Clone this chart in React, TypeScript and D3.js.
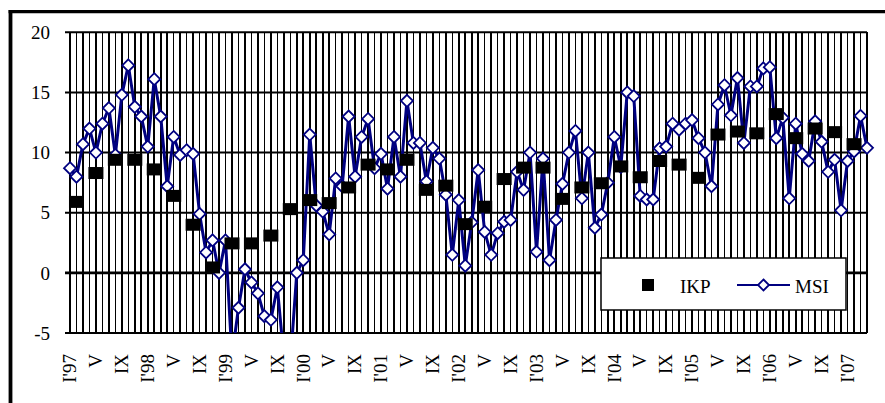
import * as d3 from 'd3';

// monthly MSI, I'97 .. IV'07
const msi = [
  8.7, 8.0, 10.7, 12.0, 10.0, 12.4, 13.7, 9.8, 14.8, 17.25, 13.8, 13.0,
  10.5, 16.1, 13.0, 7.2, 11.3, 9.8, 10.2, 9.9, 4.9, 1.7, 2.7, 0.0,
  2.7, -7.0, -2.9, 0.3, -0.8, -1.7, -3.6, -3.9, -1.2, -7.0, -7.5, 0.0,
  1.05, 11.5, 5.6, 5.1, 3.2, 7.85, 7.2, 13.0, 8.0, 11.3, 12.8, 8.7,
  9.9, 7.0, 11.3, 8.0, 14.3, 10.8, 10.8, 7.6, 10.4, 9.5, 6.5, 1.5,
  6.05, 0.6, 4.2, 8.55, 3.4, 1.5, 3.3, 4.25, 4.4, 8.4, 6.9, 10.0,
  1.75, 9.5, 1.05, 4.4, 7.4, 10.0, 11.8, 6.2, 10.0, 3.75, 4.85, 7.5,
  11.3, 8.8, 15.0, 14.7, 6.4, 6.1, 6.1, 10.35, 10.5, 12.4, 11.9, 12.4,
  12.7, 11.2, 10.0, 7.2, 14.0, 15.6, 13.1, 16.2, 10.8, 15.5, 15.5, 17.0,
  17.1, 11.2, 12.9, 6.2, 12.4, 9.9, 9.3, 12.6, 10.9, 8.4, 9.4, 5.2,
  9.3, 10.1, 13.05, 10.4,
];

// quarterly IKP, shown at the middle month of each quarter
const ikp = [
  5.9, 8.3, 9.4, 9.4,
  8.6, 6.4, 4.0, 0.45,
  2.45, 2.45, 3.1, 5.3,
  6.05, 5.8, 7.1, 9.0,
  8.6, 9.4, 6.9, 7.25,
  4.05, 5.5, 7.8, 8.75,
  8.75, 6.15, 7.1, 7.45,
  8.85, 7.95, 9.3, 9.0,
  7.9, 11.5, 11.75, 11.6,
  13.2, 11.2, 12.0, 11.7,
  10.7,
];

// one label every 4 months
const tickLabels = [
  "I'97", 'V', 'IX', "I'98", 'V', 'IX', "I'99", 'V', 'IX', "I'00", 'V', 'IX',
  "I'01", 'V', 'IX', "I'02", 'V', 'IX', "I'03", 'V', 'IX', "I'04", 'V', 'IX',
  "I'05", 'V', 'IX', "I'06", 'V', 'IX', "I'07",
];

const yTicks = [-5, 0, 5, 10, 15, 20];

const W = 885;
const H = 403;
const FONT = "'Liberation Serif', 'DejaVu Serif', serif";
const NAVY = '#000080';

const diamond = (cx: number, cy: number, r: number) =>
  `M${cx},${cy - r}L${cx + r},${cy}L${cx},${cy + r}L${cx - r},${cy}Z`;

export default function App() {
  const x = d3.scaleLinear().domain([0, msi.length - 1]).range([70, 867]);
  const y = d3.scaleLinear().domain([-5, 20]).range([333, 32.3]);
  const [x0, x1] = x.range();
  const [y0, y1] = y.range();

  const line = d3
    .line<number>()
    .x((_, i) => x(i))
    .y((d) => y(d));

  const ikpPts = ikp.map((v, q) => ({ i: q * 3 + 1, v }));

  return (
    <div style={{ position: 'absolute', left: 0, top: 0 }}>
      <svg width={W} height={H} style={{ display: 'block', background: '#fff' }}>
        <defs>
          <clipPath id="plot-clip">
            <rect x={x0 - 8} y={y1 - 8} width={x1 - x0 + 16} height={y0 - y1 + 8} />
          </clipPath>
        </defs>

        {/* outer frame */}
        <line x1={10.5} x2={10.5} y1={10} y2={H} stroke="#000" strokeWidth={3.8} />
        <line x1={8.6} x2={W} y1={11.7} y2={11.7} stroke="#000" strokeWidth={3.2} />

        {/* vertical month gridlines */}
        {msi.map((_, i) => (
          <line
            key={'v' + i}
            x1={x(i)}
            x2={x(i)}
            y1={y1}
            y2={y0}
            stroke="#000"
            strokeWidth={1.6}
            shapeRendering="crispEdges"
          />
        ))}

        {/* horizontal gridlines */}
        {yTicks.map((t) => (
          <line key={'h' + t} x1={x0 - 5} x2={x1} y1={y(t)} y2={y(t)} stroke="#000" strokeWidth={t === 0 ? 2.6 : 2} />
        ))}

        {/* y tick labels */}
        {yTicks.map((t) => (
          <text key={'yt' + t} x={50} y={y(t)} dy="0.35em" textAnchor="end" fontFamily={FONT} fontSize={19} fill="#000">
            {t}
          </text>
        ))}

        {/* x tick labels */}
        {tickLabels.map((lab, k) => {
          const px = x(k * 4);
          return (
            <text
              key={'xt' + k}
              transform={`translate(${px},354) rotate(-90)`}
              dy="0.33em"
              textAnchor="end"
              fontFamily={FONT}
              fontSize={19}
              fill="#000"
            >
              {lab}
            </text>
          );
        })}

        <g clipPath="url(#plot-clip)">
          <path d={line(msi) || ''} fill="none" stroke={NAVY} strokeWidth={3} strokeLinejoin="round" />
          {msi.map((v, i) =>
            v >= -5 ? (
              <path key={'m' + i} d={diamond(x(i), y(v), 6)} fill="#fff" stroke={NAVY} strokeWidth={1.8} />
            ) : null
          )}
          {ikpPts.map((p) => (
            <rect key={'k' + p.i} x={x(p.i) - 7.5} y={y(p.v) - 6} width={15} height={12} fill="#000" />
          ))}
        </g>

        {/* legend */}
        <g>
          <rect x={601} y={258} width={245} height={52} fill="#fff" stroke="#000" strokeWidth={1.5} />
          <rect x={642} y={279} width={12} height={12} fill="#000" />
          <text x={680} y={293} fontFamily={FONT} fontSize={19} fill="#000">IKP</text>
          <line x1={737} x2={790} y1={285} y2={285} stroke={NAVY} strokeWidth={2} />
          <path d={diamond(763.5, 285, 5.5)} fill="#fff" stroke={NAVY} strokeWidth={1.8} />
          <text x={795} y={293} fontFamily={FONT} fontSize={19} fill="#000">MSI</text>
        </g>
      </svg>
    </div>
  );
}
